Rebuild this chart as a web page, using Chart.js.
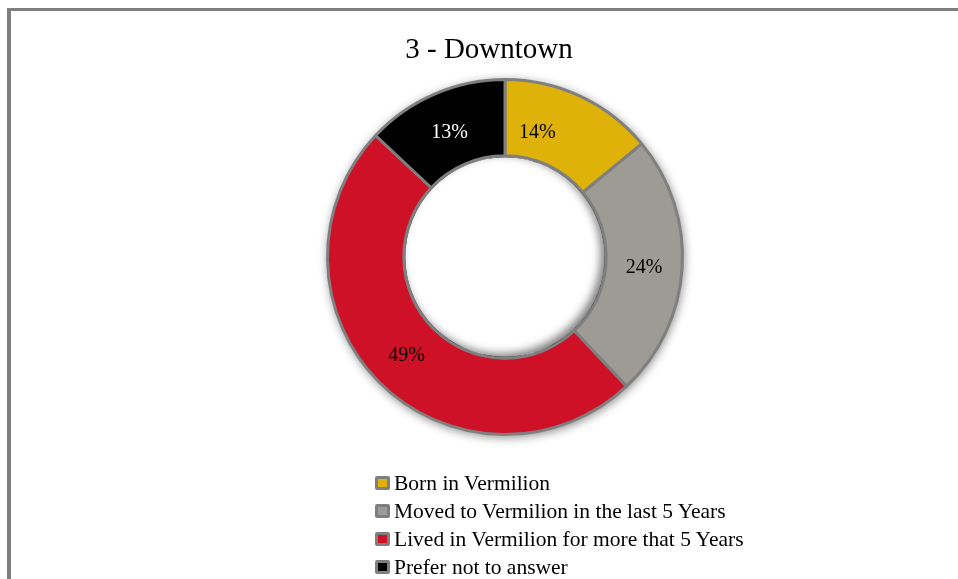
<!DOCTYPE html>
<html>
<head>
<meta charset="utf-8">
<script src="https://cdn.jsdelivr.net/npm/chart.js@4/dist/chart.umd.min.js"></script>
<style>
  body { margin: 0; width: 958px; height: 579px; overflow: hidden; position: relative; background: #fff; font-family: 'Liberation Serif', 'DejaVu Serif', serif; }
  #frame { position: absolute; left: 7px; top: 8px; width: 990px; height: 620px; border-top: 3px solid #7f7f7f; border-left: 4px solid #7f7f7f; }
  #chart-wrap { position: absolute; left: 0; top: 0; width: 958px; height: 579px; }
  #title { position: absolute; left: 0; width: 978px; top: 32px; line-height: 32px; text-align: center; font-size: 29px; color: #000; }
  #legend { position: absolute; left: 375px; top: 469px; }
  .lg-row { display: flex; align-items: center; height: 28px; font-size: 21.5px; color: #000; }
  .lg-box { width: 9px; height: 8px; border: 3px solid #7f7f7f; border-radius: 2px; margin-right: 4px; }
</style>
</head>
<body>
<div id="frame"></div>
<div id="chart-wrap"><canvas id="donut"></canvas></div>
<div id="title">3 - Downtown</div>
<div id="legend"></div>

<script>
  // data
  const categories = [
    'Born in Vermilion',
    'Moved to Vermilion in the last 5 Years',
    'Lived in Vermilion for more that 5 Years',
    'Prefer not to answer'
  ];
  const shares = [14, 24, 49, 13];
  const sliceColors = ['#dfb20a', '#9d9b94', '#ce1126', '#000000'];
  const labelColors = ['#000', '#000', '#000', '#fff'];

  // small nudge for the first label, the way the original sits
  const labelShiftX = [-27, 0, 0, 0];
  const labelShiftY = [2, 2, 0, 4];

  const ringEffects = {
    id: 'ringEffects',
    beforeDatasetsDraw(chart) {
      const arc = chart.getDatasetMeta(0).data[0];
      if (!arc) return;
      const ctx = chart.ctx;
      ctx.save();
      ctx.shadowColor = 'rgba(0,0,0,0.45)';
      ctx.shadowBlur = 10;
      ctx.shadowOffsetX = 1;
      ctx.shadowOffsetY = 2;
      ctx.fillStyle = '#fff';
      ctx.beginPath();
      ctx.arc(arc.x, arc.y, arc.outerRadius + 1, 0, Math.PI * 2);
      ctx.fill();
      ctx.restore();
    },
    afterDatasetsDraw(chart) {
      const meta = chart.getDatasetMeta(0);
      const first = meta.data[0];
      if (!first) return;
      const ctx = chart.ctx;
      const hole = first.innerRadius - 1.5;

      // inner shadow inside the hole
      ctx.save();
      ctx.beginPath();
      ctx.arc(first.x, first.y, hole, 0, Math.PI * 2);
      ctx.clip();
      ctx.shadowColor = 'rgba(0,0,0,0.5)';
      ctx.shadowBlur = 9;
      ctx.shadowOffsetX = -4;
      ctx.shadowOffsetY = -3;
      ctx.strokeStyle = '#000';
      ctx.lineWidth = 20;
      ctx.beginPath();
      ctx.arc(first.x, first.y, hole + 10, 0, Math.PI * 2);
      ctx.stroke();
      ctx.restore();

      // percentage labels
      ctx.save();
      ctx.font = '20px "Liberation Serif", serif';
      ctx.textAlign = 'center';
      ctx.textBaseline = 'middle';
      meta.data.forEach((el, i) => {
        const pos = el.tooltipPosition();
        ctx.fillStyle = labelColors[i];
        ctx.fillText(shares[i] + '%', pos.x + labelShiftX[i], pos.y + labelShiftY[i]);
      });
      ctx.restore();
    }
  };

  const chart = new Chart(document.getElementById('donut'), {
    type: 'doughnut',
    data: {
      labels: categories,
      datasets: [{
        data: shares,
        backgroundColor: sliceColors,
        borderColor: '#7f7f7f',
        borderWidth: 3,
        hoverOffset: 0
      }]
    },
    options: {
      responsive: true,
      maintainAspectRatio: false,
      animation: false,
      cutout: '57%',
      layout: { padding: { left: 326, right: 274, top: 78, bottom: 143 } },
      plugins: {
        legend: { display: false },
        title: { display: false },
        tooltip: { enabled: false }
      }
    },
    plugins: [ringEffects]
  });

  // legend as plain html rows
  const legendEl = document.getElementById('legend');
  legendEl.innerHTML = categories
    .map((c, i) => `
      <div class="lg-row">
        <span class="lg-box" style="background:${sliceColors[i]}"></span>
        <span>${c}</span>
      </div>`)
    .join('');
</script>
</body>
</html>
